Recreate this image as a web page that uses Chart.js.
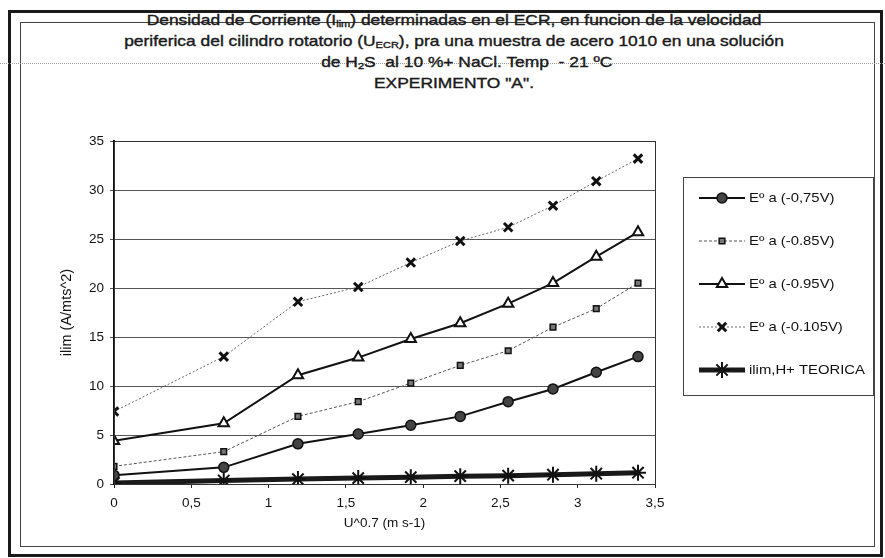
<!DOCTYPE html>
<html>
<head>
<meta charset="utf-8">
<script src="https://cdn.jsdelivr.net/npm/chart.js@4.4.1/dist/chart.umd.min.js"></script>
<style>
  html, body { margin: 0; padding: 0; background: #fff; }
  #wrap { position: relative; width: 885px; height: 558px; overflow: hidden; background: #fff; }
  #outer { position: absolute; left: 8px; top: 10px; width: 869px; height: 541px; border: 3px solid #1a1a1a; box-sizing: content-box; }
  #inner { position: absolute; left: 20px; top: 22px; width: 853px; height: 523px; border: 1px solid #444; }
  #scanline { position: absolute; left: 0; top: 63px; width: 885px; border-top: 1px dotted #9a9a9a; }
  #title { position: absolute; left: 0; top: 9px; width: 908px; text-align: center;
           font-family: "Liberation Sans", Arial, sans-serif; font-weight: normal; font-size: 15px;
           -webkit-text-stroke: 0.4px #1a1a1a;
           line-height: 21px; color: #1a1a1a; transform: scaleX(1.16); transform-origin: 454px 0; }
  #title sub { font-size: 9.5px; vertical-align: -2px; line-height: 0; }
  #title .l3 { padding-left: 22px; }
  canvas { position: absolute; left: 0; top: 0; }
</style>
</head>
<body>
<div id="wrap">
  <div id="outer"></div>
  <div id="inner"></div>
  <div id="scanline"></div>
  <div id="title">
    <div>Densidad de Corriente (I<sub>lim</sub>) determinadas en el ECR, en funcion de la velocidad</div>
    <div>periferica del cilindro rotatorio (U<sub>ECR</sub>), pra una muestra de acero 1010 en una solución</div>
    <div class="l3">de H<sub>2</sub>S&nbsp; al 10 %+ NaCl. Temp&nbsp; - 21 ºC</div>
    <div>EXPERIMENTO "A".</div>
  </div>
  <canvas id="c" width="885" height="558"></canvas>
</div>
<script>
// ---- data ----
const xValues = [0, 0.71, 1.19, 1.58, 1.92, 2.24, 2.55, 2.84, 3.12, 3.39];
const serie075 = [0.9, 1.7, 4.1, 5.1, 6.0, 6.9, 8.4, 9.7, 11.4, 13.0];
const serie085 = [1.8, 3.3, 6.9, 8.4, 10.3, 12.1, 13.6, 16.0, 17.9, 20.5];
const serie095 = [4.4, 6.2, 11.1, 12.9, 14.8, 16.4, 18.4, 20.5, 23.2, 25.7];
const serie0105 = [7.4, 13.0, 18.6, 20.1, 22.6, 24.8, 26.2, 28.4, 30.9, 33.2];
const teorica = [0.1, 0.35, 0.5, 0.6, 0.7, 0.8, 0.85, 0.95, 1.05, 1.15];
const seriesNames = ["Eº a (-0,75V)", "Eº a (-0.85V)", "Eº a (-0.95V)", "Eº a (-0.105V)", "ilim,H+ TEORICA"];
const xTicks = [0, 0.5, 1, 1.5, 2, 2.5, 3, 3.5];
const yTicks = [0, 5, 10, 15, 20, 25, 30, 35];
const xTitle = "U^0.7 (m s-1)";
const yTitle = "ilim (A/mts^2)";

const FONT = "'Liberation Sans', Arial, sans-serif";
const pts = arr => arr.map((v, i) => ({ x: xValues[i], y: v }));

const datasets = [
  { label: seriesNames[0], data: pts(serie075), borderColor: '#111', borderWidth: 2,
    pointStyle: 'circle', pointRadius: 5, pointBackgroundColor: '#444', pointBorderColor: '#111', pointBorderWidth: 1.5 },
  { label: seriesNames[1], data: pts(serie085), borderColor: '#555', borderWidth: 1, borderDash: [3, 2],
    pointStyle: 'rect', pointRadius: 4, pointBackgroundColor: '#777', pointBorderColor: '#111', pointBorderWidth: 1.5 },
  { label: seriesNames[2], data: pts(serie095), borderColor: '#111', borderWidth: 2,
    pointStyle: 'triangle', pointRadius: 6, pointBackgroundColor: '#fff', pointBorderColor: '#111', pointBorderWidth: 2 },
  { label: seriesNames[3], data: pts(serie0105), borderColor: '#666', borderWidth: 1, borderDash: [2, 2],
    pointStyle: 'crossRot', pointRadius: 6, pointBackgroundColor: '#111', pointBorderColor: '#111', pointBorderWidth: 3 },
  { label: seriesNames[4], data: pts(teorica), borderColor: '#1a1a1a', borderWidth: 5,
    pointStyle: 'star', pointRadius: 8, pointBackgroundColor: '#111', pointBorderColor: '#111', pointBorderWidth: 2 }
];
datasets.forEach(d => { d.tension = 0; d.fill = false; d.backgroundColor = d.pointBackgroundColor; });

const frameAndLegend = {
  id: 'frameAndLegend',
  afterDatasetsDraw(chart) {
    const { ctx, chartArea: a } = chart;
    ctx.save();
    // plot area border (right side and top)
    ctx.strokeStyle = '#333';
    ctx.lineWidth = 1;
    ctx.strokeRect(a.left + 0.5, a.top + 0.5, a.right - a.left, a.bottom - a.top);
    // legend box
    const lx = a.right + 28, ly = a.top + 36, lw = 190, lh = 218;
    ctx.strokeStyle = '#444';
    ctx.strokeRect(lx + 0.5, ly + 0.5, lw, lh);
    chart.data.datasets.forEach((d, i) => {
      const cy = ly + 21 + i * 43;
      const x0 = lx + 16, x1 = lx + 62, xm = (x0 + x1) / 2;
      ctx.save();
      ctx.strokeStyle = d.borderColor;
      ctx.lineWidth = d.borderWidth;
      ctx.setLineDash(d.borderDash || []);
      ctx.beginPath(); ctx.moveTo(x0, cy); ctx.lineTo(x1, cy); ctx.stroke();
      ctx.setLineDash([]);
      ctx.fillStyle = d.pointBackgroundColor;
      ctx.strokeStyle = d.pointBorderColor;
      ctx.lineWidth = d.pointBorderWidth;
      Chart.helpers.drawPoint(ctx, { pointStyle: d.pointStyle, radius: d.pointRadius, rotation: 0, borderWidth: d.pointBorderWidth }, xm, cy);
      ctx.restore();
      ctx.save();
      ctx.fillStyle = '#111';
      ctx.font = '13.5px ' + FONT;
      ctx.textBaseline = 'middle';
      ctx.textAlign = 'left';
      ctx.translate(x1 + 4, cy);
      ctx.scale(1.1, 1);
      ctx.fillText(d.label, 0, 0);
      ctx.restore();
    });
    ctx.restore();
  }
};

new Chart(document.getElementById('c'), {
  type: 'line',
  data: { datasets },
  options: {
    responsive: false,
    animation: false,
    layout: { padding: { left: 22, right: 230, top: 141, bottom: 24 } },
    plugins: { legend: { display: false }, title: { display: false }, tooltip: { enabled: false } },
    scales: {
      x: {
        type: 'linear', min: 0, max: 3.5,
        afterFit: s => { s.height = 50; },
        afterBuildTicks: s => { s.ticks = xTicks.map(v => ({ value: v })); },
        grid: { drawOnChartArea: false, drawTicks: true, tickLength: 4, color: '#222' },
        border: { color: '#222', width: 1 },
        ticks: { color: '#111', font: { family: FONT, size: 13.5 }, padding: 7,
                 callback: v => String(v).replace('.', ',') },
        title: { display: true, text: xTitle, color: '#111', font: { family: FONT, size: 13.5 }, padding: { bottom: 3, top: 0 } }
      },
      y: {
        type: 'linear', min: 0, max: 35,
        afterFit: s => { s.width = 92; },
        afterBuildTicks: s => { s.ticks = yTicks.map(v => ({ value: v })); },
        grid: { color: '#555', lineWidth: 1, tickLength: 4 },
        border: { color: '#111', width: 2 },
        ticks: { color: '#111', font: { family: FONT, size: 13.5 }, padding: 6 },
        title: { display: true, text: yTitle, color: '#111', font: { family: FONT, size: 14.5 }, padding: { top: 36, bottom: 0 } }
      }
    }
  },
  plugins: [frameAndLegend]
});
</script>
</body>
</html>
